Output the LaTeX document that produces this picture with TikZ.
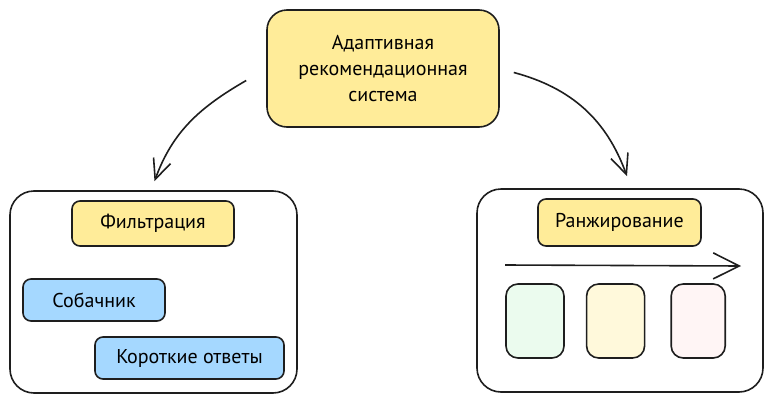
\documentclass[tikz,border=0pt]{standalone}
\usepackage{fontspec}
\setmainfont{PT Sans}
\usetikzlibrary{positioning,arrows.meta}

\definecolor{ink}{HTML}{1E1E1E}
\definecolor{sunny}{HTML}{FFEC99}
\definecolor{sky}{HTML}{A5D8FF}
\definecolor{mint}{HTML}{EBFBEE}
\definecolor{cream}{HTML}{FFF9DB}
\definecolor{blush}{HTML}{FFF5F5}

\tikzset{
    box/.style = {draw=ink, line width=1.6pt, rounded corners=8pt, inner sep=0pt,
        font=\fontsize{20}{26}\selectfont},
    group/.style = {box, rounded corners=24pt},
    label/.style = {box, fill=sunny},
    item/.style = {box, fill=sky},
    card/.style = {box, rounded corners=12pt, minimum width=58pt, minimum height=74pt},
    arr/.style = {draw=ink, line width=1.6pt, -{Straight Barb[length=20pt,width=18pt]}}
}

\begin{document}
\begin{tikzpicture}[x=1pt, y=-1pt, node distance = 20pt]
        \useasboundingbox (0,0) rectangle (772,402);

        \node [box, fill=sunny, rounded corners=20pt, minimum width=232pt,
        minimum height=117pt, align=center] (sys) at (383,68.5)
        {Адаптивная\\рекомендационная\\система};

        \node [group, minimum width=287pt, minimum height=202pt] (left) at (153.5,292) {};
        \node [group, minimum width=286pt, minimum height=203pt] (right) at (620,290.5) {};

        \node [label, minimum width=162pt, minimum height=45pt] (filt) at (153,223.5) {Фильтрация};
        \node [item, minimum width=142pt, minimum height=42pt] (dog) at (94,300) {Собачник};
        \node [item, minimum width=189pt, minimum height=42pt] (short) at (189.5,358) {Короткие ответы};

        \node [label, minimum width=163pt, minimum height=47pt] (rank) at (619.5,222.5) {Ранжирование};
        \node [card, fill=mint] (c1) at (535,321) {};
        \node [card, fill=cream, right = 21pt of c1] (c2) {};
        \node [card, fill=blush, minimum width=54pt, right = 25pt of c2] (c3) {};

        \coordinate (from) at (505,265);
        \coordinate (to) at (741,266);
        \draw [arr, -{Straight Barb[length=26pt,width=26pt]}] (from) -- (to);

        \draw [arr] ([xshift=-20pt, yshift=-12pt]sys.west) to [out=210, in=70]
        ([xshift=1pt, yshift=9pt]left.north);
        \draw [arr] ([xshift=14pt, yshift=-4pt]sys.east) to [out=-15, in=110]
        ([xshift=7pt, yshift=12pt]right.north);
    \end{tikzpicture}
\end{document}
